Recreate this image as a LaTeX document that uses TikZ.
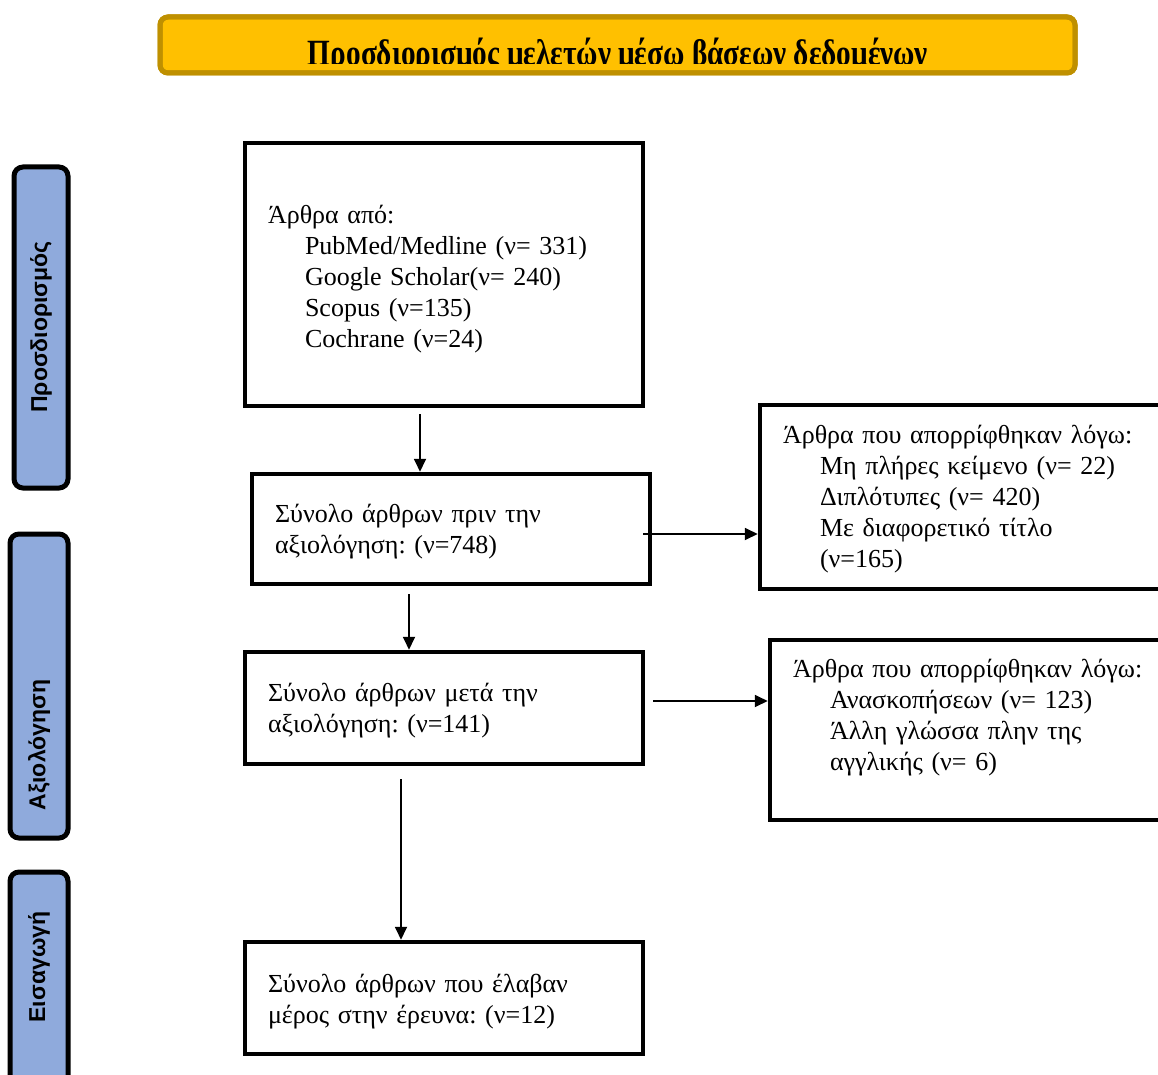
\documentclass[tikz,border=0pt]{standalone}
\usepackage{fontspec}
\setmainfont{Liberation Serif}
\newfontfamily\sidefont{Liberation Sans}
\usetikzlibrary{arrows.meta}
\definecolor{titlefill}{HTML}{FFC000}
\definecolor{titleedge}{HTML}{BF9000}
\definecolor{phasefill}{HTML}{8FAADC}
\frenchspacing
% taller first-line strut: pushes a box's text block slightly downwards
\newcommand{\toppad}[1]{\rule{0pt}{#1}}

\begin{document}
\begin{tikzpicture}[x=1pt,y=-1pt,
  flowbox/.style={draw, line width=4.5pt, rectangle, fill=white, align=left,
    inner xsep=23pt, inner ysep=0pt, font=\fontsize{26}{31}\selectfont},
  phasebox/.style={draw, line width=5pt, rounded corners=9pt, fill=phasefill,
    inner sep=0pt},
  phaselabel/.style={rotate=90, font=\sidefont\bfseries\fontsize{23}{26}\selectfont},
  arr/.style={line width=1.8pt, -{Triangle[length=13pt,width=12pt]}}
]
\useasboundingbox (0,0) rectangle (1158,1075);
\clip (0,0) rectangle (1158,1075);

% heading bar
\node (title) [draw=titleedge, line width=5pt, fill=titlefill, rounded corners=8pt,
  minimum width=915pt, minimum height=56pt, inner sep=0pt] at (617.5,45) {};
\begin{scope}
  \clip (165,20) rectangle (1070,64);
  \node (titletext) [anchor=base, inner sep=0pt,
    font=\bfseries\fontsize{37}{40}\selectfont] at (618,66)
    {\resizebox{620pt}{\height}{Προσδιορισμός μελετών μέσω βάσεων δεδομένων}};
\end{scope}
\draw[titleedge, line width=5pt, rounded corners=8pt] (160,17) rectangle (1075,73);

% phase labels on the left
\node (p1) [phasebox, minimum width=54pt, minimum height=321pt] at (41,327.5) {};
\node (p1t) [phaselabel] at (41,327) {Προσδιορισμός};
\node (p2) [phasebox, minimum width=58pt, minimum height=304pt] at (39,686) {};
\node (p2t) [phaselabel] at (39,745) {Αξιολόγηση};
\node (p3) [phasebox, minimum width=58pt, minimum height=230pt] at (39,987) {};
\node (p3t) [phaselabel] at (39,967) {Εισαγωγή};

% flow boxes
\node (A) [flowbox, text width=352pt, minimum height=263pt] at (444,274.5)
  {\toppad{28pt}Άρθρα από:\\
   \hspace*{37pt}PubMed/Medline (ν= 331)\\
   \hspace*{37pt}Google Scholar(ν= 240)\\
   \hspace*{37pt}Scopus (ν=135)\\
   \hspace*{37pt}Cochrane (ν=24)};
\node (B) [flowbox, text width=352pt, minimum height=110pt] at (451,529)
  {\toppad{24pt}Σύνολο άρθρων πριν την\\ αξιολόγηση: (ν=748)};
\node (C) [flowbox, text width=352pt, minimum height=112pt] at (444,708)
  {\toppad{24pt}Σύνολο άρθρων μετά την\\ αξιολόγηση: (ν=141)};
\node (D) [flowbox, text width=352pt, minimum height=112pt] at (444,998)
  {\toppad{26pt}Σύνολο άρθρων που έλαβαν\\ μέρος στην έρευνα: (ν=12)};
\node (E) [flowbox, text width=374pt, minimum height=184pt] at (970,497)
  {\toppad{22pt}Άρθρα που απορρίφθηκαν λόγω:\\
   \hspace*{37pt}Μη πλήρες κείμενο (ν= 22)\\
   \hspace*{37pt}Διπλότυπες (ν= 420)\\
   \hspace*{37pt}Με διαφορετικό τίτλο\\
   \hspace*{37pt}(ν=165)};
\node (F) [flowbox, text width=374pt, minimum height=180pt] at (980,730)
  {Άρθρα που απορρίφθηκαν λόγω:\\
   \hspace*{37pt}Ανασκοπήσεων (ν= 123)\\
   \hspace*{37pt}Άλλη γλώσσα πλην της\\
   \hspace*{37pt}αγγλικής (ν= 6)\\
   \mbox{}};

% connectors
\coordinate (sA) at (420,414);
\coordinate (sB) at (643,534);
\coordinate (sB2) at (409,594);
\coordinate (sC) at (653,701);
\coordinate (sC2) at (401,779);
\draw[arr] (sA) -- (sA |- B.north);
\draw[arr] (sB) -- (sB -| E.west);
\draw[arr] (sB2) -- (sB2 |- C.north);
\draw[arr] (sC) -- (sC -| F.west);
\draw[arr] (sC2) -- (sC2 |- D.north);
\end{tikzpicture}
\end{document}
